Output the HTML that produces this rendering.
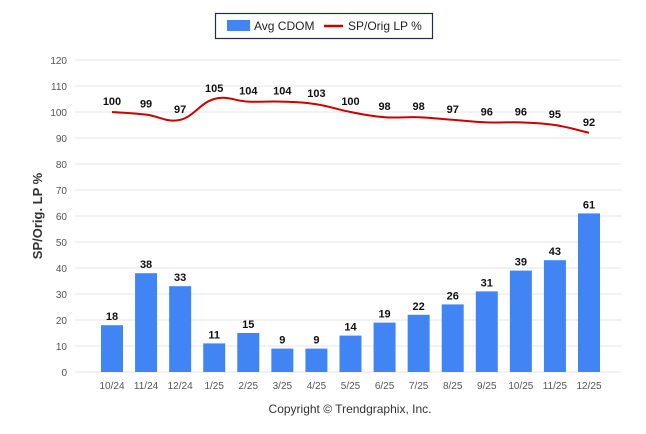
<!DOCTYPE html>
<html><head><meta charset="utf-8"><style>
body{margin:0;background:#fff;}
svg{display:block;font-family:"Liberation Sans",sans-serif;}
</style></head><body>
<svg id="c" width="646" height="434">
<g>
<rect x="215.5" y="13.5" width="217" height="25" fill="#fff" stroke="#1f2d4d" stroke-width="1.2"/>
<rect x="227" y="20" width="23" height="11" fill="#4185f4"/>
<text x="254" y="30" font-size="12" fill="#222">Avg CDOM</text>
<line x1="324" y1="26" x2="343" y2="26" stroke="#cc0000" stroke-width="2.5"/>
<text x="348" y="30" font-size="12" fill="#222">SP/Orig LP %</text>
</g>
<text transform="translate(42,216) rotate(-90)" text-anchor="middle" font-size="13" font-weight="bold" fill="#333">SP/Orig. LP %</text>
<text x="350" y="413" text-anchor="middle" font-size="12" fill="#333">Copyright © Trendgraphix, Inc.</text>
<g id="grid"></g><g id="bars"></g><g id="line"></g><g id="labels"></g>
</svg>
<script>
const categories=["10/24","11/24","12/24","1/25","2/25","3/25","4/25","5/25","6/25","7/25","8/25","9/25","10/25","11/25","12/25"];
const cdom=[18,38,33,11,15,9,9,14,19,22,26,31,39,43,61];
const spOrig=[100,99,97,105,104,104,103,100,98,98,97,96,96,95,92];
const yTicks=[0,10,20,30,40,50,60,70,80,90,100,110,120];
const NS="http://www.w3.org/2000/svg";
const X0=75,X1=622,Y0=372,Y120=60;
const y=v=>Y0-(v/120)*(Y0-Y120);
const step=(589-112)/(categories.length-1);
const x=i=>112+step*i;
function mk(t,a,p){const e=document.createElementNS(NS,t);for(const k in a)e.setAttribute(k,a[k]);p.appendChild(e);return e;}
const grid=document.getElementById('grid'),bars=document.getElementById('bars'),line=document.getElementById('line'),labels=document.getElementById('labels');
yTicks.forEach(v=>{
 const l=mk('line',{x1:X0,x2:X1,y1:y(v),y2:y(v),stroke:'#e6e6e6','stroke-width':1},grid);
 
 
 const t=mk('text',{x:X0-8,y:y(v)+4,'text-anchor':'end','font-size':10,fill:'#555'},grid);t.textContent=v;
 
 
});
const bw=22;
categories.forEach((c,i)=>{
 const b=mk('rect',{x:x(i)-bw/2,y:y(cdom[i]),width:bw,height:Y0-y(cdom[i]),fill:'#4185f4'},bars);
 
 
 const t=mk('text',{x:x(i),y:y(cdom[i])-5,'text-anchor':'middle','font-size':11,'font-weight':'bold',fill:'#111'},labels);t.textContent=cdom[i];
 
 
 const xl=mk('text',{x:x(i),y:Y0+17,'text-anchor':'middle','font-size':10,fill:'#555'},labels);xl.textContent=c;
 
 
 const pl=mk('text',{x:x(i),y:y(spOrig[i])-7,'text-anchor':'middle','font-size':11,'font-weight':'bold',fill:'#111'},labels);pl.textContent=spOrig[i];
 
 
});
const pts=spOrig.map((v,i)=>[x(i),y(v)]);
let d='M'+pts[0][0]+','+pts[0][1];
for(let i=0;i<pts.length-1;i++){
 const p0=pts[Math.max(0,i-1)],p1=pts[i],p2=pts[i+1],p3=pts[Math.min(pts.length-1,i+2)];
 const k=0.2;
 d+=' C'+(p1[0]+(p2[0]-p0[0])*k)+','+(p1[1]+(p2[1]-p0[1])*k)+' '+(p2[0]-(p3[0]-p1[0])*k)+','+(p2[1]-(p3[1]-p1[1])*k)+' '+p2[0]+','+p2[1];
}
const pth=mk('path',{d:d,fill:'none',stroke:'#cc0000','stroke-width':2},line);


</script>
</body></html>
